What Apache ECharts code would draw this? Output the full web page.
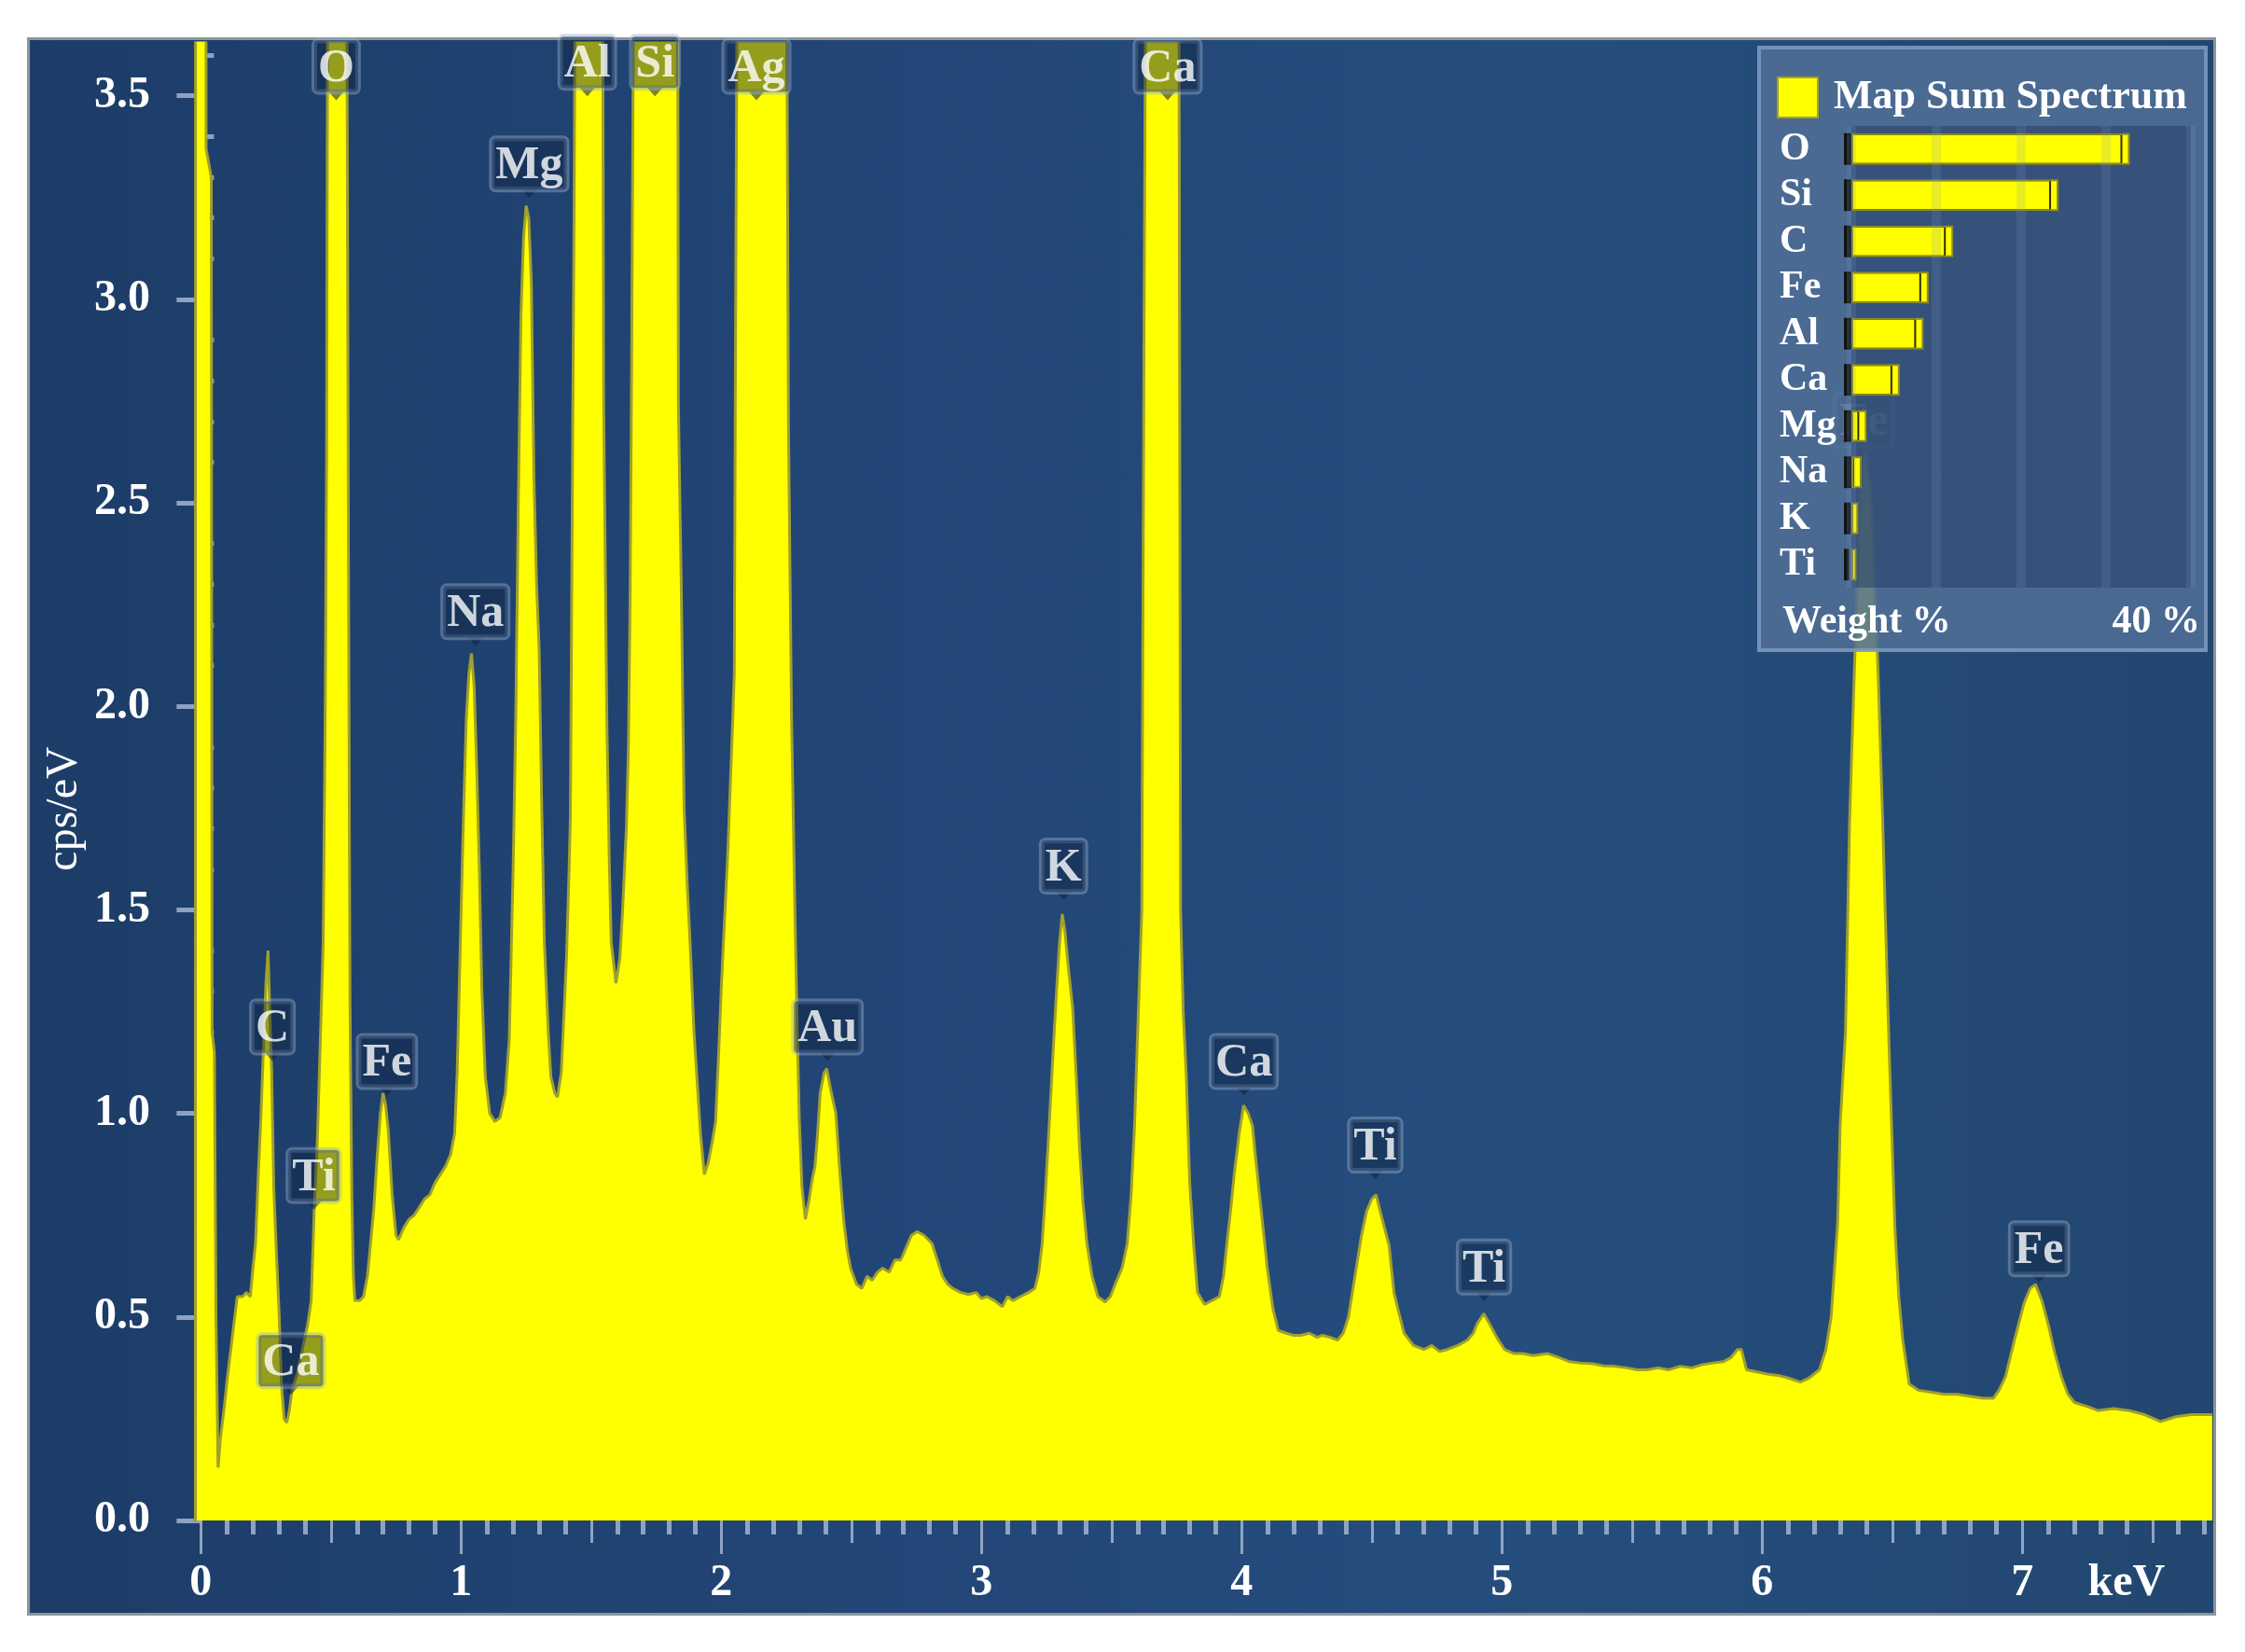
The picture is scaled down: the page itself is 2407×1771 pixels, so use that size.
<!DOCTYPE html>
<html>
<head>
<meta charset="utf-8">
<title>Map Sum Spectrum</title>
<script src="https://cdn.jsdelivr.net/npm/echarts@6/dist/echarts.min.js"></script>
<style>
  html, body { margin: 0; padding: 0; background: #fff; }
  .panel {
    position: absolute; left: 29px; top: 40px; width: 2347px; height: 1692px;
    box-sizing: border-box; border: 3px solid #8c949c;
    background: linear-gradient(90deg, #1d3d68 0%, #224677 40%, #254e7d 70%, #22466f 100%);
  }
  #spectrum { position: absolute; left: 0; top: 0; width: 2407px; height: 1771px; }
</style>
</head>
<body>
<div class="panel"></div>
<div id="spectrum"></div>
<script>
// axis ranges and tick labels
const xMin = -0.03, xMax = 7.73, yMax = 3.63
const yMajor = [0, 0.5, 1, 1.5, 2, 2.5, 3, 3.5]
const xMajor = [0, 1, 2, 3, 4, 5, 6, 7]
const xUnitAt = 7.4 // "keV" sits on the axis here

// spectrum, [keV, cps/eV]
const spectrum = [
  [-0.03, 0], [-0.021, 0], [-0.02, 9.0], [0.016, 9.0], [0.02, 3.37], [0.04, 3.3], [0.043, 1.2], [0.052, 1.15], [0.058, 0.5], [0.066, 0.13],
  [0.075, 0.2], [0.09, 0.28], [0.1, 0.34], [0.115, 0.42], [0.13, 0.5], [0.14, 0.55], [0.16, 0.55], [0.175, 0.56], [0.19, 0.55], [0.2, 0.62],
  [0.21, 0.68], [0.22, 0.84], [0.23, 0.98], [0.24, 1.15], [0.25, 1.32], [0.258, 1.4], [0.265, 1.4], [0.272, 1.1], [0.28, 0.82], [0.29, 0.66],
  [0.3, 0.52], [0.31, 0.33], [0.32, 0.25], [0.33, 0.24], [0.34, 0.27], [0.35, 0.32], [0.37, 0.36], [0.39, 0.42], [0.41, 0.48], [0.424, 0.54],
  [0.435, 0.75], [0.448, 0.94], [0.46, 1.2], [0.47, 1.42], [0.478, 2.0], [0.483, 2.6], [0.488, 4.0], [0.5, 8.0], [0.53, 9.0], [0.556, 5.0],
  [0.563, 3.3], [0.567, 2.4], [0.573, 1.27], [0.58, 0.8], [0.586, 0.6], [0.592, 0.54], [0.61, 0.54], [0.625, 0.55], [0.64, 0.6], [0.655, 0.7],
  [0.665, 0.77], [0.678, 0.9], [0.69, 1.0], [0.7, 1.05], [0.71, 1.02], [0.72, 0.96], [0.735, 0.8], [0.75, 0.7], [0.76, 0.69], [0.78, 0.72],
  [0.8, 0.74], [0.82, 0.75], [0.84, 0.77], [0.86, 0.79], [0.88, 0.8], [0.9, 0.83], [0.92, 0.85], [0.94, 0.87], [0.96, 0.9], [0.975, 0.95],
  [0.985, 1.1], [0.997, 1.42], [1.01, 1.75], [1.02, 1.97], [1.03, 2.08], [1.04, 2.13], [1.05, 2.05], [1.06, 1.85], [1.07, 1.6], [1.08, 1.3],
  [1.093, 1.09], [1.11, 1.0], [1.13, 0.98], [1.15, 0.99], [1.17, 1.05], [1.185, 1.18], [1.2, 1.6], [1.21, 1.97], [1.22, 2.5], [1.23, 2.96],
  [1.24, 3.15], [1.25, 3.23], [1.26, 3.2], [1.27, 3.04], [1.28, 2.56], [1.29, 2.3], [1.3, 2.14], [1.31, 1.75], [1.32, 1.42], [1.335, 1.2],
  [1.345, 1.09], [1.36, 1.05], [1.37, 1.04], [1.385, 1.1], [1.405, 1.38], [1.415, 1.6], [1.42, 1.73], [1.427, 2.47], [1.435, 3.3], [1.445, 5.0],
  [1.49, 7.0], [1.54, 5.0], [1.548, 2.74], [1.56, 1.97], [1.57, 1.6], [1.577, 1.42], [1.595, 1.32], [1.61, 1.38], [1.62, 1.49], [1.635, 1.7],
  [1.643, 1.9], [1.65, 2.3], [1.655, 2.8], [1.665, 4.0], [1.74, 12.0], [1.83, 5.0], [1.835, 2.74], [1.846, 2.3], [1.857, 1.75], [1.87, 1.55],
  [1.88, 1.42], [1.895, 1.2], [1.906, 1.09], [1.92, 0.95], [1.935, 0.85], [1.95, 0.88], [1.965, 0.93], [1.978, 0.98], [1.99, 1.15], [2.0, 1.31],
  [2.012, 1.47], [2.025, 1.64], [2.04, 1.9], [2.05, 2.08], [2.054, 2.8], [2.062, 4.0], [2.16, 10.0], [2.25, 4.0], [2.258, 2.69], [2.27, 1.97],
  [2.283, 1.49], [2.292, 1.2], [2.3, 0.98], [2.31, 0.82], [2.323, 0.74], [2.335, 0.78], [2.35, 0.84], [2.36, 0.87], [2.37, 0.95], [2.38, 1.05],
  [2.395, 1.1], [2.405, 1.11], [2.42, 1.06], [2.44, 1.0], [2.455, 0.86], [2.47, 0.74], [2.485, 0.66], [2.497, 0.62], [2.52, 0.58], [2.54, 0.57],
  [2.56, 0.6], [2.58, 0.59], [2.6, 0.61], [2.62, 0.62], [2.645, 0.61], [2.667, 0.64], [2.69, 0.64], [2.71, 0.67], [2.73, 0.7], [2.753, 0.71],
  [2.78, 0.7], [2.81, 0.68], [2.83, 0.64], [2.85, 0.6], [2.87, 0.58], [2.89, 0.57], [2.92, 0.56], [2.95, 0.555], [2.98, 0.56], [3.0, 0.545],
  [3.02, 0.55], [3.05, 0.54], [3.08, 0.525], [3.1, 0.55], [3.12, 0.54], [3.15, 0.55], [3.18, 0.56], [3.205, 0.57], [3.22, 0.61], [3.233, 0.68],
  [3.245, 0.8], [3.26, 0.97], [3.275, 1.15], [3.29, 1.32], [3.3, 1.42], [3.31, 1.49], [3.32, 1.45], [3.335, 1.35], [3.35, 1.26], [3.365, 1.08],
  [3.377, 0.91], [3.39, 0.78], [3.405, 0.68], [3.425, 0.6], [3.447, 0.55], [3.475, 0.537], [3.495, 0.55], [3.516, 0.584], [3.54, 0.62], [3.56, 0.68],
  [3.575, 0.8], [3.588, 0.97], [3.6, 1.2], [3.616, 1.5], [3.625, 3.0], [3.632, 4.0], [3.69, 9.0], [3.758, 4.0], [3.765, 1.5], [3.775, 1.25],
  [3.787, 1.09], [3.8, 0.83], [3.815, 0.68], [3.83, 0.56], [3.857, 0.531], [3.885, 0.54], [3.914, 0.55], [3.93, 0.6], [3.943, 0.68], [3.957, 0.76],
  [3.971, 0.85], [3.99, 0.95], [4.007, 1.02], [4.025, 1.0], [4.041, 0.97], [4.055, 0.88], [4.07, 0.79], [4.085, 0.7], [4.098, 0.62], [4.12, 0.52],
  [4.14, 0.467], [4.17, 0.46], [4.2, 0.455], [4.226, 0.455], [4.26, 0.46], [4.29, 0.45], [4.31, 0.455], [4.34, 0.45], [4.368, 0.443], [4.39, 0.46],
  [4.41, 0.5], [4.44, 0.62], [4.46, 0.7], [4.48, 0.76], [4.5, 0.79], [4.516, 0.8], [4.54, 0.74], [4.566, 0.676], [4.585, 0.56], [4.6, 0.52],
  [4.624, 0.46], [4.66, 0.43], [4.7, 0.42], [4.73, 0.43], [4.76, 0.415], [4.79, 0.42], [4.83, 0.43], [4.867, 0.443], [4.89, 0.46], [4.905, 0.484],
  [4.93, 0.508], [4.955, 0.48], [4.98, 0.45], [5.01, 0.42], [5.046, 0.41], [5.08, 0.41], [5.12, 0.405], [5.175, 0.41], [5.22, 0.4], [5.26, 0.39],
  [5.3, 0.387], [5.35, 0.385], [5.39, 0.38], [5.43, 0.379], [5.48, 0.375], [5.52, 0.37], [5.557, 0.37], [5.6, 0.375], [5.64, 0.37], [5.685, 0.379],
  [5.73, 0.375], [5.77, 0.383], [5.81, 0.387], [5.85, 0.39], [5.88, 0.4], [5.905, 0.42], [5.92, 0.42], [5.94, 0.37], [5.98, 0.365], [6.02, 0.36],
  [6.065, 0.356], [6.1, 0.35], [6.147, 0.34], [6.18, 0.35], [6.22, 0.37], [6.245, 0.42], [6.265, 0.5], [6.29, 0.73], [6.3, 0.975], [6.32, 1.2],
  [6.336, 1.72], [6.355, 2.1], [6.375, 2.5], [6.395, 2.65], [6.42, 2.5], [6.445, 2.09], [6.463, 1.72], [6.487, 1.175], [6.51, 0.72], [6.525, 0.55],
  [6.54, 0.445], [6.565, 0.335], [6.6, 0.32], [6.65, 0.315], [6.7, 0.31], [6.75, 0.31], [6.8, 0.305], [6.85, 0.3], [6.888, 0.3], [6.91, 0.32],
  [6.935, 0.353], [6.97, 0.445], [7.007, 0.535], [7.03, 0.57], [7.05, 0.58], [7.075, 0.54], [7.1, 0.48], [7.125, 0.41], [7.15, 0.353], [7.175, 0.31],
  [7.2, 0.29], [7.25, 0.28], [7.29, 0.27], [7.35, 0.275], [7.41, 0.27], [7.47, 0.26], [7.53, 0.243], [7.59, 0.255], [7.65, 0.26], [7.73, 0.26]
]

// peak labels: element, keV, height of the pointer tip
const peakNames = ['O', 'Al', 'Si', 'Ag', 'Ca', 'Mg', 'Na', 'C', 'Fe', 'Ti', 'Ca', 'Au', 'K', 'Ca', 'Ti', 'Ti', 'Fe', 'Fe']
const peakKeV = [0.52, 1.485, 1.745, 2.135, 3.715, 1.262, 1.055, 0.275, 0.715, 0.434, 0.346, 2.408, 3.315, 4.008, 4.513, 4.931, 7.064, 6.39]
const peakTip = [3.49, 3.5, 3.5, 3.49, 3.49, 3.25, 2.15, 1.13, 1.045, 0.765, 0.31, 1.13, 1.525, 1.045, 0.84, 0.54, 0.585, 2.62]

// inset: weight %
const elements = ['O', 'Si', 'C', 'Fe', 'Al', 'Ca', 'Mg', 'Na', 'K', 'Ti']
const weightPct = [32.8, 24.4, 12.0, 9.1, 8.5, 5.7, 1.8, 1.2, 0.8, 0.6]

const serif = '"Liberation Serif", "DejaVu Serif", serif'
const tickColor = 'rgba(170,188,215,0.8)'

const tenths = (from, to) => {
  const out = []
  for (let i = Math.round(from * 10); i <= Math.round(to * 10); i++) out.push(i / 10)
  return out
}
const xHalf = tenths(0, 7.7).filter(v => Math.round(v * 10) % 10 === 5)
const xMinor = tenths(0, 7.7).filter(v => Math.round(v * 10) % 5 !== 0)
const yMinor = tenths(0, 3.6).filter(v => Math.round(v * 10) % 5 !== 0)

const tickAxisX = (values, length, width) => ({
  gridIndex: 0, type: 'value', min: xMin, max: xMax, position: 'bottom',
  axisLine: { show: false }, splitLine: { show: false }, axisLabel: { show: false },
  axisTick: { show: true, customValues: values, length, lineStyle: { color: tickColor, width } }
})

const myChart = echarts.init(document.getElementById('spectrum'))
const option = {
  animation: false,
  backgroundColor: 'transparent',
  grid: [
    { left: 207, right: 35, top: 46, bottom: 141 },
    { left: 1985, width: 364, top: 135, height: 495, show: true, backgroundColor: 'rgba(34,60,98,0.5)', borderWidth: 0, z: 6 }
  ],
  legend: {
    data: ['Map Sum Spectrum'], left: 1900, top: 77, itemWidth: 43, itemHeight: 43, icon: 'rect',
    selectedMode: false, z: 8,
    itemStyle: { color: '#ffff00', borderColor: '#a0a030', borderWidth: 2 },
    textStyle: { color: '#fff', fontFamily: serif, fontWeight: 'bold', fontSize: 44, padding: [0, 0, 0, 12] }
  },
  xAxis: [
    {
      gridIndex: 0, type: 'value', min: xMin, max: xMax, position: 'bottom',
      axisLine: { show: false }, splitLine: { show: false },
      axisTick: { show: true, customValues: xMajor, length: 36, lineStyle: { color: tickColor, width: 3 } },
      axisLabel: {
        customValues: [...xMajor, xUnitAt], margin: 44,
        formatter: v => (v === xUnitAt ? 'keV' : String(v)),
        color: '#fff', fontFamily: serif, fontWeight: 'bold', fontSize: 48
      }
    },
    tickAxisX(xHalf, 24, 3),
    tickAxisX(xMinor, 15, 5),
    {
      gridIndex: 1, type: 'value', min: 0, max: 40, interval: 10, z: 8,
      axisLine: { show: false }, axisTick: { show: false }, axisLabel: { show: false },
      splitLine: { show: true, lineStyle: { color: 'rgba(125,155,195,0.18)', width: 10 } }
    }
  ],
  yAxis: [
    {
      gridIndex: 0, type: 'value', min: 0, max: yMax,
      axisLine: { show: false }, splitLine: { show: false },
      axisTick: { show: true, customValues: yMajor, length: 26, lineStyle: { color: tickColor, width: 5 } },
      axisLabel: {
        customValues: yMajor, margin: 46, formatter: v => v.toFixed(1),
        color: '#fff', fontFamily: serif, fontWeight: 'bold', fontSize: 48
      }
    },
    {
      gridIndex: 0, type: 'value', min: 0, max: yMax,
      axisLine: { show: false }, splitLine: { show: false }, axisLabel: { show: false },
      axisTick: { show: true, customValues: yMinor, length: 14, lineStyle: { color: tickColor, width: 5 } }
    },
    {
      gridIndex: 1, type: 'category', data: elements, inverse: true, z: 8,
      axisLine: { show: false }, axisTick: { show: false },
      axisLabel: { interval: 0, align: 'left', margin: 77, color: '#fff', fontFamily: serif, fontWeight: 'bold', fontSize: 42 }
    }
  ],
  graphic: [
    {
      type: 'rect', z: 5, silent: true,
      shape: { x: 1886, y: 51, width: 479, height: 646 },
      style: { fill: 'rgba(80,110,150,0.88)', stroke: 'rgba(125,152,190,0.9)', lineWidth: 4 }
    },
    { type: 'text', z: 8, left: 1911, top: 646, style: { text: 'Weight %', fill: '#fff', font: 'bold 42px ' + serif } },
    { type: 'text', z: 8, right: 48, top: 646, style: { text: '40 %', fill: '#fff', font: 'bold 42px ' + serif } },
    {
      type: 'text', z: 8, x: 69, y: 867, rotation: Math.PI / 2,
      style: { text: 'cps/eV', fill: '#fff', font: '48px ' + serif, textAlign: 'center', textVerticalAlign: 'middle' }
    }
  ],
  series: [
    {
      name: 'Map Sum Spectrum', type: 'line', xAxisIndex: 0, yAxisIndex: 0,
      data: spectrum, symbol: 'none', silent: true, z: 2,
      itemStyle: { color: '#ffff00' },
      lineStyle: { color: '#a0a02c', width: 3 },
      areaStyle: { color: '#ffff00', opacity: 1 }
    },
    {
      name: 'peaks', type: 'scatter', xAxisIndex: 0, yAxisIndex: 0, silent: true, z: 3,
      data: peakKeV.map((x, i) => ({ value: [x, peakTip[i]], name: peakNames[i] })),
      symbol: 'path://M0,0 L12,0 L6,8 Z', symbolSize: [16, 9], symbolOffset: [0, -4],
      itemStyle: { color: 'rgba(14,34,64,0.7)' },
      label: {
        show: true, position: 'top', distance: 0, formatter: '{b}',
        color: '#fff', fontFamily: serif, fontWeight: 'bold', fontSize: 50, lineHeight: 50,
        backgroundColor: 'rgba(14,34,64,0.55)', borderColor: 'rgba(150,172,204,0.55)',
        borderWidth: 3, borderRadius: 4, padding: [5, 4, 0, 4]
      }
    },
    {
      name: 'Weight %', type: 'bar', xAxisIndex: 3, yAxisIndex: 2, z: 7, silent: true,
      data: weightPct, barWidth: 34,
      itemStyle: {
        color: '#ffff00', borderColor: '#8c8c28', borderWidth: 2,
        shadowColor: 'rgba(12,12,0,0.85)', shadowOffsetX: -8, shadowBlur: 0
      }
    }
  ]
}
myChart.setOption(option)
</script>
</body>
</html>
